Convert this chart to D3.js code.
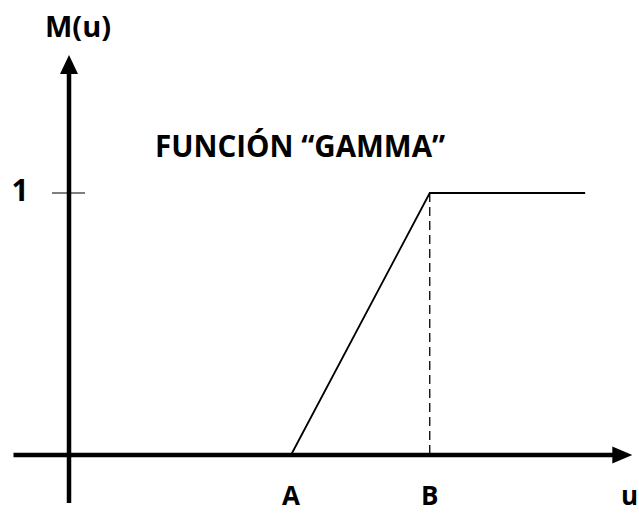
<!DOCTYPE html>
<html><head><meta charset="utf-8">
<script src="https://cdn.jsdelivr.net/npm/d3@7"></script>
<style>html,body{margin:0;padding:0;background:#fff;}svg{display:block;}</style>
</head><body>
<script>
// Data
const breakLabels = ["A", "B"];
const breakU = [4, 6.5];
const curveU = [0, 4, 6.5, 9.3];
const curveM = [0, 0, 1, 1];
const yTickValues = [1];
const yTickLabels = ["1"];
const title = "FUNCIÓN “GAMMA”";
const yAxisLabel = "M(u)";
const xAxisLabel = "u";

const W = 639, H = 513;
const svg = d3.select("body").append("svg").attr("width", W).attr("height", H);
const x = d3.scaleLinear().domain([0, 10]).range([69, 624]);
const y = d3.scaleLinear().domain([0, 1]).range([455, 193]);
const font = "'Open Sans', sans-serif";

// axes
svg.append("line").attr("x1", x(-1)).attr("x2", x(10.15) - 14).attr("y1", y(0)).attr("y2", y(0))
  .attr("stroke", "#000").attr("stroke-width", 4.5);
svg.append("path").attr("d", `M${x(10.15)},${y(0)} L${x(10.15)-20},${y(0)-8.5} L${x(10.15)-20},${y(0)+8.5} Z`).attr("fill", "#000");
svg.append("line").attr("x1", x(0)).attr("x2", x(0)).attr("y1", 503).attr("y2", 68)
  .attr("stroke", "#000").attr("stroke-width", 4.5);
svg.append("path").attr("d", `M${x(0)},55 L${x(0)-9},74 L${x(0)+9},74 Z`).attr("fill", "#000");

// y ticks
yTickValues.forEach((v, i) => {
  svg.append("line").attr("x1", 52).attr("x2", 85).attr("y1", y(v)).attr("y2", y(v))
    .attr("stroke", "#000").attr("stroke-width", 1.2);
  svg.append("text").attr("x", 20).attr("y", 201).attr("text-anchor", "middle")
    .attr("font-family", font).attr("font-weight", "bold").attr("font-size", 30).text(yTickLabels[i]);
});

// dashed line at B
svg.append("line").attr("x1", x(breakU[1])).attr("x2", x(breakU[1])).attr("y1", y(1)).attr("y2", y(0))
  .attr("stroke", "#000").attr("stroke-width", 1.3).attr("stroke-dasharray", "9,5");

// curve (non-zero part drawn)
const pts = curveU.map((u, i) => [u, curveM[i]]).slice(1);
svg.append("path").datum(pts)
  .attr("d", d3.line().x(d => x(d[0])).y(d => y(d[1])))
  .attr("fill", "none").attr("stroke", "#000").attr("stroke-width", 1.8);

// break labels
breakLabels.forEach((l, i) => {
  svg.append("text").attr("x", x(breakU[i])).attr("y", 505).attr("text-anchor", "middle")
    .attr("font-family", font).attr("font-weight", "bold").attr("font-size", 26).text(l);
});
svg.append("text").attr("x", 621).attr("y", 505).attr("text-anchor", "start")
  .attr("font-family", font).attr("font-weight", "bold").attr("font-size", 26).text(xAxisLabel);

// axis label M(u)
svg.append("text").attr("x", 45).attr("y", 37)
  .attr("font-family", font).attr("font-weight", "bold").attr("font-size", 29).text(yAxisLabel);

// title
svg.append("text").attr("x", 155).attr("y", 157)
  .attr("font-family", font).attr("font-weight", "bold").attr("font-size", 29.5).text(title);
</script>
</body></html>
